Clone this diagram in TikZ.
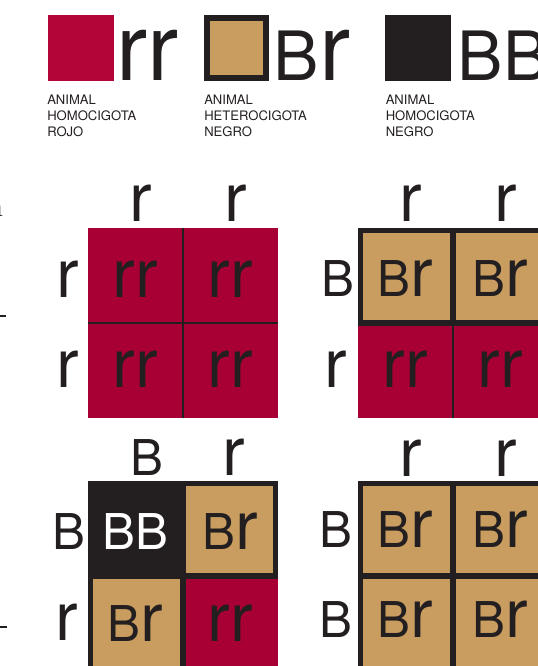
\documentclass[tikz,border=0pt]{standalone}
\usepackage{graphicx}
\usepackage{fontspec}
\setsansfont{TeX Gyre Heros}

\definecolor{punnettred}{RGB}{168,0,52}
\definecolor{legendred}{RGB}{179,5,55}
\definecolor{punnetttan}{RGB}{201,157,96}
\definecolor{punnettdark}{RGB}{35,31,32}

% lowercase r blown up to the cap height of B
\newcommand{\erre}{\scalebox{1.373}{r}}

\tikzset{
  allele/.style={font=\sffamily\fontsize{37}{40}\selectfont, text=punnettdark, inner sep=0pt, anchor=base},
  keyletter/.style={font=\sffamily\fontsize{51}{54}\selectfont, text=punnettdark, inner sep=0pt, anchor=base west},
  keytext/.style={font=\sffamily\fontsize{9.8}{11.8}\selectfont, text=punnettdark, inner sep=0pt, anchor=north west, align=left},
  cellborder/.style={draw=punnettdark, line width=4.1pt},
  celldivider/.style={draw=punnettdark, line width=0.95pt},
}

\begin{document}
\begin{tikzpicture}[x=0.75pt,y=-0.75pt]
\useasboundingbox (0,0) rectangle (537,666);

% cut-off marks on the left edge
\node[font=\rmfamily\fontsize{22.6}{24}\selectfont, text=punnettdark, inner sep=0pt, anchor=base east] (cut) at (3.5,217) {n};
\draw[punnettdark, line width=0.9pt] (0,316) -- (5.5,316);
\draw[punnettdark, line width=0.9pt] (0,627) -- (7,627);

% legend
\fill[legendred] (48,15) rectangle (114,81);
\node[keyletter] (keyrr) at (116,81) {\erre\erre};
\node[keytext] (textrr) at (47,95) {ANIMAL\\HOMOCIGOTA\\ROJO};

\fill[punnetttan] (204,15) rectangle (269,81);
\draw[cellborder, line width=4.5pt] (207,18) rectangle (266,78);
\node[keyletter] (keybr) at (273.5,81) {B\erre};
\node[keytext] (textbr) at (204,95) {ANIMAL\\HETEROCIGOTA\\NEGRO};

\fill[punnettdark] (385,15) rectangle (451,81);
\node[keyletter] (keybb) at (457.5,81) {BB};
\node[keytext] (textbb) at (385.5,95) {ANIMAL\\HOMOCIGOTA\\NEGRO};

% rr x rr
\fill[punnettred] (88,228) rectangle (278,418);
\draw[celldivider] (183,228) -- (183,418);
\draw[celldivider] (88,323) -- (278,323);
\node[allele] (a1c1) at (141,221.5) {\erre};
\node[allele] (a1c2) at (235.5,221.5) {\erre};
\node[allele] (a1r1) at (67.5,297) {\erre};
\node[allele] (a1r2) at (67.5,387) {\erre};
\node[allele] (a1x11) at (135.5,297) {\erre\erre};
\node[allele] (a1x12) at (230.5,297) {\erre\erre};
\node[allele] (a1x21) at (135.5,387) {\erre\erre};
\node[allele] (a1x22) at (230.5,387) {\erre\erre};

% Br x rr
\fill[punnetttan] (358,228) rectangle (548,323);
\fill[punnettred] (358,323) rectangle (548,418);
\draw[celldivider] (453,323) -- (453,418);
\draw[cellborder] (360.75,230.75) rectangle (545.25,323);
\draw[cellborder] (453,230.75) -- (453,323);
\node[allele] (a2c1) at (410.5,222) {\erre};
\node[allele] (a2c2) at (506,222) {\erre};
\node[allele] (a2r1) at (337.5,296) {B};
\node[allele] (a2r2) at (336,387) {\erre};
\node[allele] (a2x11) at (405.5,296) {B\erre};
\node[allele] (a2x12) at (500.5,296) {B\erre};
\node[allele] (a2x21) at (405.5,387) {\erre\erre};
\node[allele] (a2x22) at (500.5,387) {\erre\erre};

% Br x Br
\fill[punnettdark] (88,481) rectangle (183,576);
\fill[punnetttan] (183,481) rectangle (278,576);
\fill[punnetttan] (88,576) rectangle (183,671);
\fill[punnettred] (183,576) rectangle (278,671);
\draw[cellborder] (183,483.75) rectangle (275.25,576);
\draw[cellborder] (90.75,576) rectangle (183,668.25);
\node[allele] (a3c1) at (146.5,475) {B};
\node[allele] (a3c2) at (233.5,475) {\erre};
\node[allele] (a3r1) at (68.5,549) {B};
\node[allele] (a3r2) at (67,640) {\erre};
\node[allele, text=white] (a3x11) at (135.5,549) {BB};
\node[allele] (a3x12) at (230.5,549) {B\erre};
\node[allele] (a3x21) at (135.5,641) {B\erre};
\node[allele] (a3x22) at (230.5,641) {\erre\erre};

% BB x rr
\fill[punnetttan] (358,481) rectangle (548,671);
\draw[cellborder] (360.75,483.75) rectangle (545.25,668.25);
\draw[cellborder] (453,481) -- (453,671);
\draw[cellborder] (358,576) -- (548,576);
\node[allele] (a4c1) at (410.5,476) {\erre};
\node[allele] (a4c2) at (506,476) {\erre};
\node[allele] (a4r1) at (336,547) {B};
\node[allele] (a4r2) at (336,637) {B};
\node[allele] (a4x11) at (405.5,547) {B\erre};
\node[allele] (a4x12) at (500.5,547) {B\erre};
\node[allele] (a4x21) at (405.5,637) {B\erre};
\node[allele] (a4x22) at (500.5,637) {B\erre};
\end{tikzpicture}
\end{document}
